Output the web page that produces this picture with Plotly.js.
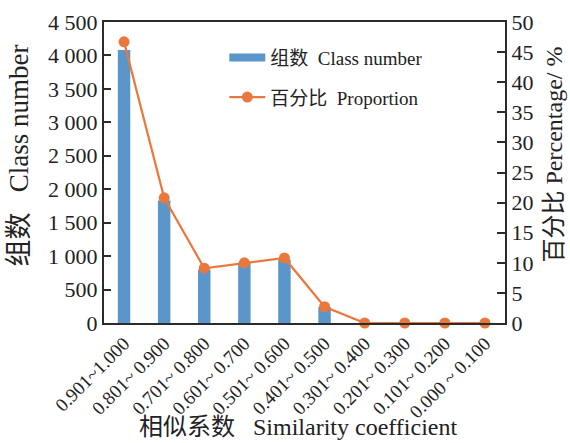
<!DOCTYPE html>
<html>
<head>
<meta charset="utf-8">
<script src="https://cdn.plot.ly/plotly-3.0.1.min.js"></script>
<style>html,body{margin:0;padding:0;background:#fff;}#chart{width:570px;height:443px;}</style>
</head>
<body>
<div id="chart"></div>
<script>
const categories = ["0.901~1.000","0.801~ 0.900","0.701~ 0.800","0.601~ 0.700","0.501~ 0.600","0.401~ 0.500","0.301~ 0.400","0.201~ 0.300","0.101~ 0.200","0.000 ~ 0.100"];
const classNumber = [4080, 1830, 800, 900, 950, 240, 0, 0, 0, 0];
const proportion = [46.7, 20.8, 9.1, 10.0, 10.8, 2.7, 0, 0, 0, 0];
const leftTicks = [0, 500, 1000, 1500, 2000, 2500, 3000, 3500, 4000, 4500];
const leftTickText = ["0","500","1 000","1 500","2 000","2 500","3 000","3 500","4 000","4 500"];
const xTitle = "相似系数&nbsp;&nbsp;&nbsp;Similarity coefficient";

const FONT = "'Liberation Serif', 'Times New Roman', 'Noto Sans CJK SC', serif";
const BLUE = "#5b96cb";
const ORANGE = "#e9783d";
const AX = "#2b2b2b";
const NB = n => "&nbsp;".repeat(n);

const traces = [
  {type: "bar", x: categories, y: classNumber, marker: {color: BLUE}, width: 0.31, showlegend: false, yaxis: "y"},
  {type: "scatter", mode: "lines", x: [null], y: [null], name: "组数" + NB(2) + "Class number",
   line: {color: BLUE, width: 8}, legendgroup: "a", yaxis: "y"},
  {type: "scatter", mode: "lines+markers", x: categories, y: proportion, yaxis: "y2",
   name: "百分比" + NB(2) + "Proportion", legendgroup: "b",
   line: {color: ORANGE, width: 2.2}, marker: {color: ORANGE, size: 11}, cliponaxis: false}
];

const layout = {
  width: 570, height: 443,
  margin: {l: 104, r: 65, t: 22, b: 120},
  paper_bgcolor: "#fff", plot_bgcolor: "#fff",
  font: {family: FONT, size: 18, color: "#222"},
  showlegend: true,
  legend: {x: 0.3, y: 0.945, xanchor: "left", yanchor: "top", bgcolor: "rgba(0,0,0,0)",
           font: {size: 19, family: FONT}, itemwidth: 36, traceorder: "grouped", tracegroupgap: 12},
  xaxis: {
    type: "category", range: [-0.5, 9.5], showline: true, linecolor: AX, linewidth: 2, mirror: true,
    ticks: "", tickangle: -45, tickfont: {size: 19, family: FONT}, showgrid: false
  },
  yaxis: {
    range: [0, 4500], tickvals: leftTicks, ticktext: leftTickText, showline: true, linecolor: AX, linewidth: 2,
    ticks: "inside", ticklen: 7, tickwidth: 2, tickcolor: AX, showgrid: false, zeroline: false,
    tickfont: {size: 22, family: FONT},
    title: {text: NB(5) + "组数" + NB(3) + "Class number", font: {size: 27, family: FONT}, standoff: 12}
  },
  yaxis2: {
    overlaying: "y", side: "right", range: [0, 50], dtick: 5, showline: true, linecolor: AX, linewidth: 2,
    ticks: "inside", ticklen: 8, tickwidth: 2, tickcolor: AX, showgrid: false, zeroline: false,
    tickfont: {size: 22, family: FONT},
    title: {text: NB(6) + "百分比 Percentage/ %", font: {size: 24, family: FONT}, standoff: 13}
  },
  annotations: [
    {text: xTitle, xref: "paper", yref: "paper", x: 0.485, y: -0.396, xanchor: "center", yanchor: "bottom",
     showarrow: false, font: {size: 24, family: FONT, color: "#222"}}
  ]
};

Plotly.newPlot("chart", traces, layout, {displayModeBar: false, staticPlot: true});
</script>
</body>
</html>
